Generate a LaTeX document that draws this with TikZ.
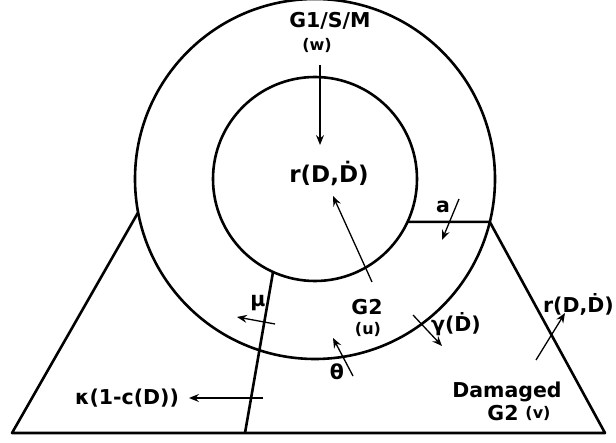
\documentclass[tikz,border=0pt]{standalone}
\usepackage{fontspec}
\setmainfont{DejaVu Sans}
\usetikzlibrary{arrows.meta}
\begin{document}
\begin{tikzpicture}[x=1pt,y=-1pt,
  wall/.style={line width=2.6pt,line join=round},
  flow/.style={line width=1.3pt,-{Stealth[length=10pt,width=8pt,inset=3.5pt]}},
  lbl/.style={font=\fontsize{20.5}{20.5}\selectfont\bfseries,inner sep=0pt},
  sub/.style={font=\fontsize{16}{16}\selectfont\bfseries,inner sep=0pt}]
\useasboundingbox (0,0) rectangle (616,443);
\coordinate (c) at (315,179);
\draw[wall] (c) circle[radius=180pt];
\draw[wall] (c) circle[radius=102pt];
\coordinate (ol) at ([shift={(190.7:180pt)}]c);\coordinate (or) at ([shift={(-13.8:180pt)}]c);
\coordinate (ir) at ([shift={(-24.9:102pt)}]c);\coordinate (il) at ([shift={(245.7:102pt)}]c);
\coordinate (bl) at (12,433);\coordinate (br) at (605,433);\coordinate (bm) at (245,433);
\draw[wall] (ol) -- (bl) -- (br) -- (or) -- (ir);
\draw[wall] (il) -- (bm);
\node[lbl] (g1) at (330,21){G1/S/M};
\node[sub] (w) at (317,45){(w)};
\node[lbl,font=\fontsize{23}{23}\selectfont\bfseries] (rin) at (329,173){r(D,Ḋ)};
\node[lbl] (a) at (443,207){a};
\node[lbl] (g2) at (367,307){G2};\node[sub] (u) at (368,329){(u)};
\node[lbl] (gam) at (456,324){γ(Ḋ)};
\node[lbl] (th) at (337,372){θ};
\node[lbl] (mu) at (258,303){μ};
\node[lbl] (kap) at (127,398){κ(1-c(D))};
\node[lbl,anchor=east] (rout) at (614,304){r(D,Ḋ)};
\node[lbl] (dam) at (507,392){Damaged};
\node[lbl] (g2v) at (503,413){G2};\node[sub] (v) at (538,413){(v)};
\coordinate (wt) at (320,65);\coordinate (wh) at (320,145);
\coordinate (ut) at (372,282);\coordinate (uh) at (333,196);
\coordinate (at) at (459,199);\coordinate (ah) at (442,240);
\coordinate (mt) at (275,324);\coordinate (mh) at (237,317);
\coordinate (kt) at (263,398);\coordinate (kh) at (189,398);
\coordinate (gt) at (413,315);\coordinate (gh) at (442,346);
\coordinate (tt) at (353,376);\coordinate (th) at (333,338);
\coordinate (rt) at (536,360);\coordinate (rh) at (565,313);
\foreach \s/\e in {wt/wh,ut/uh,at/ah,mt/mh,kt/kh,gt/gh,tt/th,rt/rh}
  \draw[flow] (\s) -- (\e);
\end{tikzpicture}
\end{document}
